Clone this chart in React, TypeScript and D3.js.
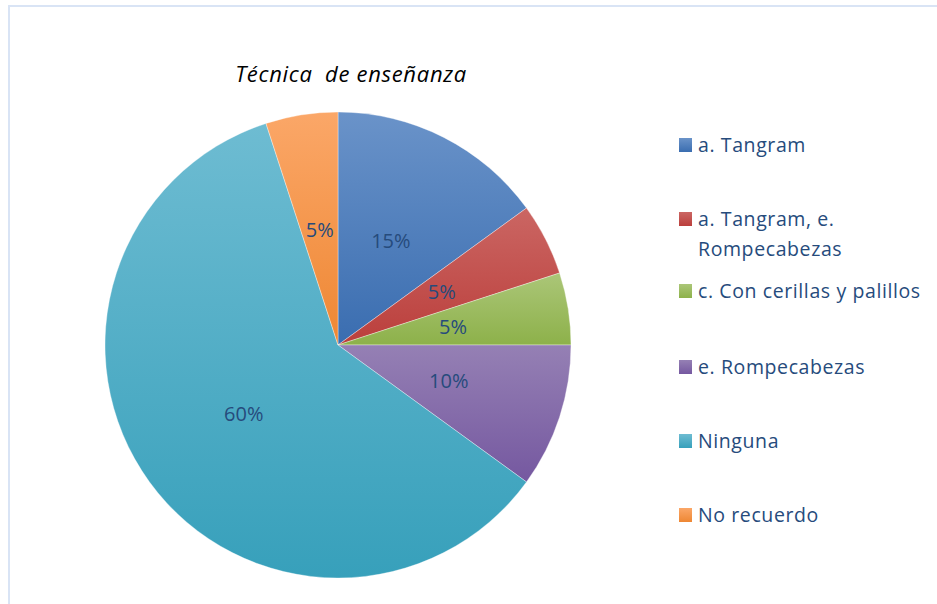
import React from 'react'
import * as d3 from 'd3'

const categories = [
  'a. Tangram',
  'a. Tangram, e. Rompecabezas',
  'c. Con cerillas y palillos',
  'e. Rompecabezas',
  'Ninguna',
  'No recuerdo'
]
const percents = [15, 5, 5, 10, 60, 5]
const legendLines = [
  ['a. Tangram'],
  ['a. Tangram, e.', 'Rompecabezas'],
  ['c. Con cerillas y palillos'],
  ['e. Rompecabezas'],
  ['Ninguna'],
  ['No recuerdo']
]
// light (top) / dark (bottom) ends of each slice gradient
const colorsTop = ['#6a93c9', '#cb6663', '#abc678', '#9580b4', '#6ebcd2', '#fba768']
const colorsBottom = ['#3a6db0', '#bb3f3c', '#8db14a', '#7558a0', '#37a0bb', '#ee8733']

const W = 937
const H = 604
const cx = 338
const cy = 345
const R = 233
const textColor = '#264b7c'
const font = "'Open Sans', 'Noto Sans', sans-serif"

export default function App () {
  const pie = d3.pie<number>().sort(null).value(d => d)
  const arcs = pie(percents)
  const arc = d3.arc<d3.PieArcDatum<number>>().innerRadius(0).outerRadius(R)
  const legendY = d3.scaleOrdinal<string, number>()
    .domain(categories)
    .range([145, 219, 291, 367, 441, 515])

  return (
    <svg width={W} height={H} style={{ position: 'absolute', left: 0, top: 0, background: '#fff' }}>
      <defs>
        {categories.map((c, i) => (
          <linearGradient key={c} id={`g${i}`} x1={0} y1={0} x2={0} y2={1}>
            <stop offset='0' stopColor={colorsTop[i]} />
            <stop offset='1' stopColor={colorsBottom[i]} />
          </linearGradient>
        ))}
      </defs>
      {/* chart area border */}
      <path d={`M9,${H + 5} V6 H${W + 5}`} fill='none' stroke='#d9e4f5' strokeWidth={2} />

      <text x={351} y={82} textAnchor='middle' fontFamily={font} fontStyle='italic' fontSize={22}
        letterSpacing={0.7} fill='#000'>
        <tspan>Técnica</tspan>
        <tspan dx={6}> de enseñanza</tspan>
      </text>

      <g transform={`translate(${cx},${cy})`}>
        {arcs.map((a, i) => (
          <path key={i} d={arc(a) || ''} fill={`url(#g${i})`} stroke='#ffffff' strokeOpacity={0.5} strokeWidth={0.7} />
        ))}
        {arcs.map((a, i) => {
          const [x, y] = arc.centroid(a)
          return (
            <text key={i} x={x} y={y} dy='0.36em' textAnchor='middle' fontFamily={font} fontSize={20} fill={textColor}>
              {a.data}%
            </text>
          )
        })}
      </g>

      {categories.map((c, i) => {
        const y = legendY(c)
        return (
          <g key={c}>
            <rect x={679} y={y - 7} width={13} height={14} fill={`url(#g${i})`} />
            <text x={698} y={y} fontFamily={font} fontSize={19.5} letterSpacing={0.6} fill={textColor}>
              {legendLines[i].map((l, j) => (
                <tspan key={j} x={698} dy={j === 0 ? '0.35em' : 30}>{l}</tspan>
              ))}
            </text>
          </g>
        )
      })}
    </svg>
  )
}
